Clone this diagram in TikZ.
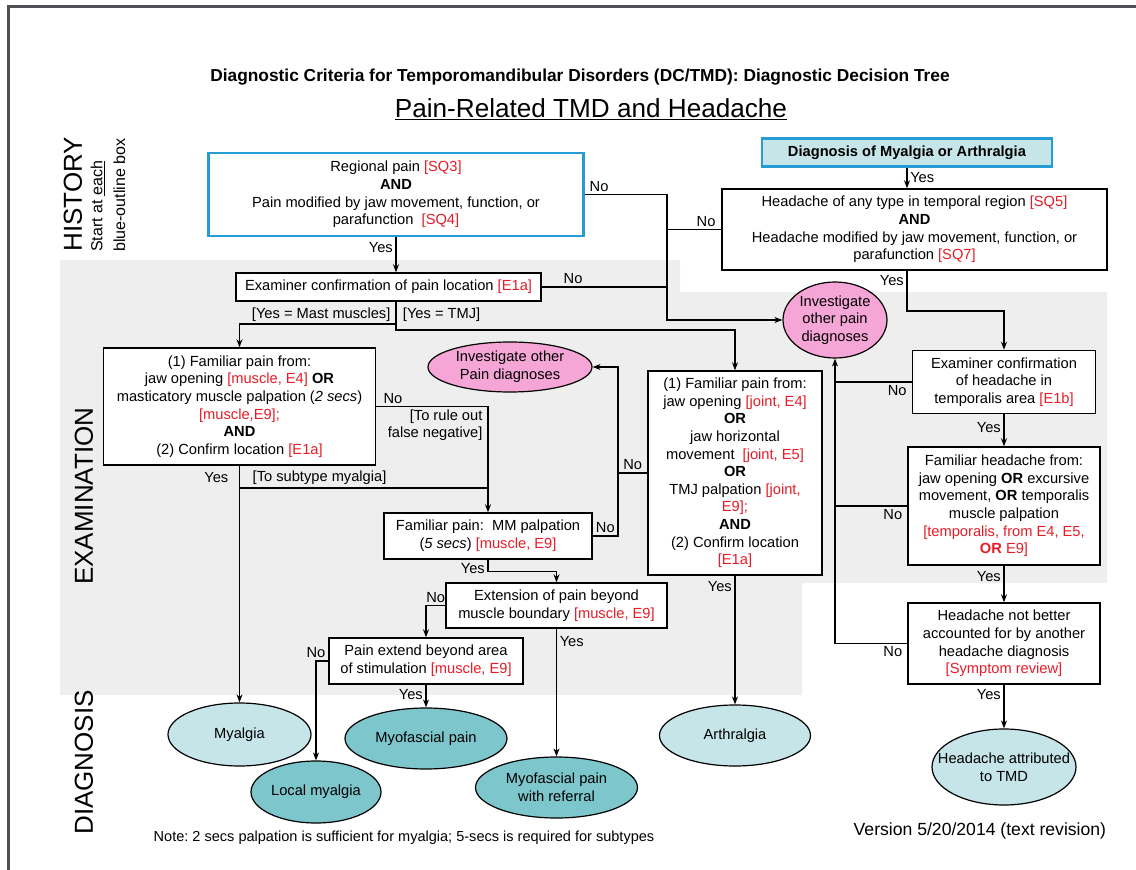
\documentclass[tikz,border=0pt]{standalone}
\usepackage{fontspec}
\setmainfont{Liberation Sans}
\usepackage{tikz}
\usetikzlibrary{arrows.meta,shapes.geometric,positioning}
\definecolor{tmdrot}{RGB}{232,28,40}
\definecolor{tmdblau}{RGB}{38,156,214}
\definecolor{hellcyan}{RGB}{198,229,233}
\definecolor{tuerkis}{RGB}{124,198,204}
\definecolor{rosa}{RGB}{245,166,214}
\definecolor{hintergrund}{RGB}{238,238,238}
\definecolor{rahmen}{RGB}{76,79,83}
\newcommand{\rt}[1]{\textcolor{tmdrot}{#1}}
\frenchspacing
\tikzset{
    %Define standard arrow tip
    >={Stealth[length=6pt,width=4.5pt]},
    font=\fontsize{11}{13.2}\selectfont,
    % box size in pixels of the scan
    gr/.style 2 args={minimum width=#1*0.75pt, minimum height=#2*0.75pt},
    %Define style for boxes
    rechteck/.style={
           rectangle,
           draw=black, line width=1.1pt,
           fill=white,
           inner sep=0pt,
           align=center},
    blaurechteck/.style={rechteck, draw=tmdblau, line width=2pt},
    % Define arrow style
    pil/.style={->, line width=0.9pt},
    linie/.style={line width=0.9pt},
    % Define diagnosis node style
    hell/.style={ellipse, draw=black, line width=0.9pt, fill=hellcyan, inner sep=0pt, align=center},
    dunkel/.style={hell, fill=tuerkis},
    frage/.style={hell, fill=rosa},
    lab/.style={inner sep=2pt},
    seite/.style={rotate=90, anchor=west, inner sep=0pt, font=\fontsize{19.5}{20}\selectfont}
}

\begin{document}
\begin{tikzpicture}[x=0.75pt,y=-0.75pt]
  \useasboundingbox (0,0) rectangle (1136,870);
  \fill[hintergrund] (60,260) -- (680,260) -- (680,292) -- (1107,292) -- (1107,583)
    -- (802,583) -- (802,695) -- (60,695) -- cycle;
  \draw[rahmen, line width=2.6pt] (8.5,870) -- (8.5,6.5) -- (1136,6.5);

  % headings
  \node (t1) at (580,77) {\fontsize{13}{15}\selectfont\bfseries Diagnostic Criteria for Temporomandibular Disorders (DC/TMD): Diagnostic Decision Tree};
  \node (t2) at (591,109) {\fontsize{19.6}{22}\selectfont\underline{Pain-Related TMD and Headache}};
  \node[seite] (s1) at (73,252) {HISTORY};
  \node[seite, align=left, font=\fontsize{12}{17}\selectfont] (s2) at (108,252) {Start at \underline{each}\\blue-outline box};
  \node[seite] (s3) at (84,585) {EXAMINATION};
  \node[seite] (s4) at (84,835) {DIAGNOSIS};

  % history
  \node[blaurechteck, gr={375}{83}] (q1) at (396,194.5) {Regional pain \rt{[SQ3]}\\\textbf{AND}\\Pain modified by jaw movement, function, or\\parafunction \ \rt{[SQ4]}};
  \node[blaurechteck, fill=hellcyan, gr={290}{28}] (h0) at (907,152.5) {\textbf{Diagnosis of Myalgia or Arthralgia}};
  \node[rechteck, gr={385}{81}] (h1) at (914.5,229.5) {Headache of any type in temporal region \rt{[SQ5]}\\\textbf{AND}\\Headache modified by jaw movement, function, or\\parafunction \rt{[SQ7]}};

  % examination
  \node[rechteck, gr={305}{28}] (q2) at (388.5,287) {Examiner confirmation of pain location \rt{[E1a]}};
  \node[rechteck, gr={272}{117}] (m1) at (239.5,406.5) {(1) Familiar pain from:\\jaw opening \rt{[muscle, E4]} \textbf{OR}\\masticatory muscle palpation (\textit{2 secs})\\\rt{[muscle,E9];}\\\textbf{AND}\\(2) Confirm location \rt{[E1a]}};
  \node[rechteck, gr={174}{204}] (g1) at (735,473) {(1) Familiar pain from:\\jaw opening \rt{[joint, E4]}\\\textbf{OR}\\jaw horizontal\\movement \ \rt{[joint, E5]}\\\textbf{OR}\\TMJ palpation \rt{[joint,}\\\rt{E9];}\\\textbf{AND}\\(2) Confirm location\\\rt{[E1a]}};
  \node[frage, gr={164}{50}] (u1) at (510,367) {Investigate other\\Pain diagnoses};
  \node[frage, gr={104}{76}] (u2) at (835,320) {Investigate\\other pain\\diagnoses};
  \node[rechteck, gr={208}{46}] (m2) at (488,536) {Familiar pain: \ MM palpation\\(\textit{5 secs}) \rt{[muscle, E9]}};
  \node[rechteck, gr={221}{45}] (m3) at (556.5,605.5) {Extension of pain beyond\\muscle boundary \rt{[muscle, E9]}};
  \node[rechteck, gr={194}{46}] (m4) at (426,661) {Pain extend beyond area\\of stimulation \rt{[muscle, E9]}};
  \node[rechteck, gr={183}{63}] (k1) at (1004,382) {Examiner confirmation\\of headache in\\temporalis area \rt{[E1b]}};
  \node[rechteck, gr={192}{118}] (k2) at (1004,506) {Familiar headache from:\\jaw opening \textbf{OR} excursive\\movement, \textbf{OR} temporalis\\muscle palpation\\\rt{[temporalis, from E4, E5,}\\\rt{\textbf{OR} E9]}};
  \node[rechteck, gr={192}{81}] (k3) at (1004,643.5) {Headache not better\\accounted for by another\\headache diagnosis\\\rt{[Symptom review]}};

  % diagnosis
  \node[hell, gr={143}{63}] (d1) at (239.5,734.5) {Myalgia};
  \node[dunkel, gr={162}{61}] (d2) at (426,738.5) {Myofascial pain};
  \node[dunkel, gr={130}{62}] (d3) at (316,792) {Local myalgia};
  \node[dunkel, gr={162}{61}] (d4) at (556.5,787.5) {Myofascial pain\\with referral};
  \node[hell, gr={151}{61}] (d5) at (735,735.5) {Arthralgia};
  \node[hell, gr={144}{76}, inner xsep=-14pt] (d6) at (1004,767) {Headache attributed\\to TMD};

  \node[anchor=west, font=\fontsize{10.9}{12}\selectfont] (n1) at (149,838) {Note: 2 secs palpation is sufficient for myalgia; 5-secs is required for subtypes};
  \node[anchor=west, font=\fontsize{13.2}{15}\selectfont] (n2) at (849,831) {Version 5/20/2014 (text revision)};

  % helper points
  \coordinate (x1) at (667,320);
  \coordinate (v1) at (396,324);
  \coordinate (v2) at (396,330);
  \coordinate (y1) at (239.5,488);
  \coordinate (r1) at (618,536);
  \coordinate (c1) at (907,311);

  % history arrows
  \draw[pil] (q1.south) -- node[lab, left, pos=0.3] {Yes} (q1.south |- q2.north);
  \draw[linie] (q1.east) -- node[lab, above right, pos=0.02] {No} (q1.east -| x1);
  \draw[linie] (h1.west) -- node[lab, above, pos=0.28] {No} (h1.west -| x1);
  \draw[linie] (q2.east) -- node[lab, above, pos=0.25] {No} (q2.east -| x1);
  \draw[pil, line width=1.6pt] (q1.east -| x1) -- (x1) -- (u2.west);
  \draw[pil] (h0.south) -- node[lab, right, pos=0.45] {Yes} (h0.south |- h1.north);
  \draw[pil] (h1.south -| c1) -- node[lab, left, pos=0.25] {Yes} (c1) -| (k1.north);

  % muscle branch
  \draw[pil] (q2.south -| v1) |- (g1.north |- v2) -- (g1.north);
  \draw[pil] (v1) -| (m1.north);
  \node[lab, anchor=south east] (l1) at ([xshift=-2pt]v1) {[Yes = Mast muscles]};
  \node[lab, anchor=south west] (l2) at ([xshift=3pt]v1) {[Yes = TMJ]};
  \draw[pil] (m1.south) -- node[lab, left=6pt, pos=0.05] {Yes} (d1.north);
  \draw[pil] (y1) -| node[lab, above right, pos=0.02] {[To subtype myalgia]} (m2.north);
  \draw[linie] (m1.east) -- node[lab, above, pos=0.15] {No} (m1.east -| m2.north) -- (y1 -| m2.north);
  \node[lab, anchor=north east, align=right] (l3) at ([xshift=-2pt]m1.east -| m2.north) {[To rule out\\false negative]};
  \draw[pil] (m2.east) -- node[lab, above, pos=0.5] {No} (m2.east -| r1) |- (u1.east);
  \draw[linie] (g1.west) -- node[lab, above] {No} (g1.west -| r1);
  \draw[pil] (m2.south) -- node[lab, left, pos=0.7] {Yes} ++(0,12) -| (m3.north);
  \draw[pil] (m3.west) -| node[lab, above, pos=0.25] {No} (m4.north);
  \draw[pil] (m3.south) -- node[lab, right, pos=0.1] {Yes} (d4.north);
  \draw[pil] (m4.west) -| node[lab, above, pos=0.5] {No} (d3.north);
  \draw[pil] (m4.south) -- node[lab, left, pos=0.45] {Yes} (d2.north);
  \draw[pil] (g1.south) -- node[lab, left, pos=0.08] {Yes} (d5.north);

  % headache branch
  \draw[linie] (k1.west) -- node[lab, below, pos=0.19] {No} (k1.west -| u2.south);
  \draw[linie] (k2.west) -- node[lab, below, pos=0.2] {No} (k2.west -| u2.south);
  \draw[pil] (k3.west) -- node[lab, below, pos=0.2] {No} (k3.west -| u2.south) -- (u2.south);
  \draw[pil] (k1.south) -- node[lab, left, pos=0.4] {Yes} (k2.north);
  \draw[pil] (k2.south) -- node[lab, left, pos=0.3] {Yes} (k3.north);
  \draw[pil] (k3.south) -- node[lab, left, pos=0.22] {Yes} (d6.north);
\end{tikzpicture}
\end{document}
